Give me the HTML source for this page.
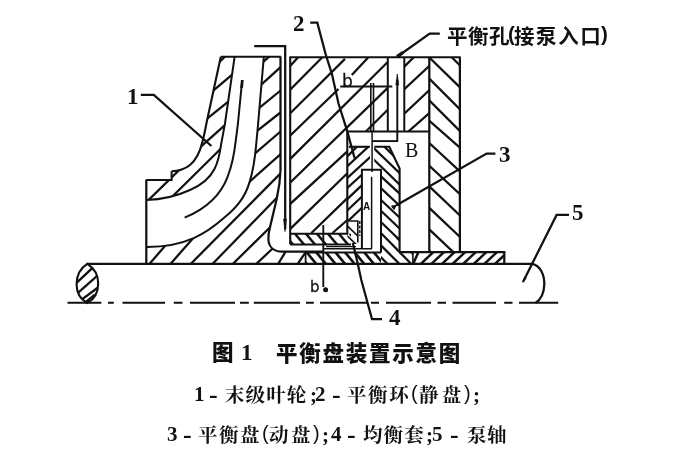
<!DOCTYPE html>
<html lang="zh"><head><meta charset="utf-8"><title>图1 平衡盘装置示意图</title>
<style>
html,body{margin:0;padding:0;background:#fff;}
body{width:680px;height:456px;position:relative;overflow:hidden;}
.ln{position:absolute;left:0;top:0;width:0;height:0;font-size:0;line-height:0;}
.t{display:block;position:absolute;white-space:nowrap;color:#111;line-height:1.2;will-change:transform;filter:blur(0.3px);}
.num{font-family:"Liberation Serif",serif;font-weight:bold;}
.ser{font-family:"Liberation Serif",serif;}
.lab{font-family:"Liberation Sans",sans-serif;-webkit-text-stroke:0.35px #111;}
.hei{font-family:"Liberation Sans","Noto Sans CJK SC",sans-serif;font-weight:bold;}
.cap{font-family:"Liberation Sans","Noto Sans CJK SC",sans-serif;font-weight:900;}
.leg{font-family:"Liberation Serif","Noto Serif CJK SC",serif;font-weight:700;}
.labd{font-family:"DejaVu Sans","Liberation Sans",sans-serif;-webkit-text-stroke:0.3px #111;}
.laba{font-family:"Liberation Sans",sans-serif;font-weight:bold;}
.par{font-family:"Liberation Sans",sans-serif;font-weight:normal;}
</style></head><body>
<svg width="680" height="456" viewBox="0 0 680 456" style="position:absolute;left:0;top:0;filter:blur(0.35px)" stroke="#111" stroke-linecap="butt" fill="none"><defs><clipPath id="c1"><path d="M87.3,263.9 C80,268.4 76.6,276.4 76.6,284.4 C76.6,292.4 80,299 87.3,303 C94.5,299 98.2,292.4 98.2,283.4 C98.2,275.4 94.5,268.4 87.3,263.9 Z"/></clipPath><clipPath id="c2"><path d="M220.8,56.8 L206.5,123 C205,131 203.5,138 202.5,141.5 C200,152 196,160 190,165 C185,169 179,171 171.6,171.2 V180 H146.3 V200 C162,199.5 178,195.5 190,190 C198,186.5 209,180 214.6,168.7 C217,164 219.5,156 221.1,144.3 L224.9,124 L234.6,56.8 Z"/></clipPath><clipPath id="c3"><path d="M263.8,56.8 L258.1,124 L256.2,144.3 C255,158 253,171 249.7,181.6 C245,198 236,208 224.4,217.6 C207,233 186,247.3 146.3,247 V263.3 H305.6 V251.6 H282.2 C274,251.6 269,247 268.4,240 C268.2,237 268.5,233 270,227.3 L276.5,199.7 C278,193 280,185 280.5,170 V56.8 Z"/></clipPath><clipPath id="c4"><path d="M290.2,57.3 H387.8 V131.4 H347.3 V233.8 H290.2 Z"/></clipPath><clipPath id="c5"><path d="M290.2,57.3 H387.8 V131.4 H347.3 V233.8 H290.2 Z"/></clipPath><clipPath id="c6"><path d="M290.2,57.3 H387.8 V131.4 H347.3 V233.8 H290.2 Z"/></clipPath><clipPath id="c7"><path d="M404.3,57.3 H429.6 V131.4 H404.3 Z"/></clipPath><clipPath id="c8"><path d="M429.6,57.3 H459.9 V252.5 H429.6 Z"/></clipPath><clipPath id="c9"><path d="M347.3,146.8 H370 V169.8 H361.9 V221 H347.3 Z"/></clipPath><clipPath id="c10"><path d="M374.2,146.8 H389.3 L399.6,168.5 V252 H412.9 V263.3 H381 V169.8 H374.2 Z"/></clipPath><clipPath id="c11"><path d="M347.3,221 H357.8 V244 H347.3 Z"/></clipPath><clipPath id="c12"><path d="M290.2,233.8 H351 V244.4 H290.2 Z"/></clipPath><clipPath id="c13"><path d="M305.6,252.5 H381 V263.5 H305.6 Z"/></clipPath><clipPath id="c14"><path d="M412.9,252 H504.8 V263.5 H412.9 Z"/></clipPath></defs><line x1="86.5" y1="263.9" x2="532.5" y2="263.9" stroke-width="2.38" />
<g clip-path="url(#c1)" stroke-width="2.38"><line x1="73.7" y1="285.6" x2="95.2" y2="265.4"/><line x1="75.4" y1="295.2" x2="100.1" y2="273.3"/><line x1="79.3" y1="301.4" x2="101.0" y2="285.2"/><line x1="81.8" y1="305.2" x2="94.9" y2="294.6"/></g>
<path d="M87.3,263.9 C80,268.4 76.6,276.4 76.6,284.4 C76.6,292.4 80,299 87.3,303 C94.5,299 98.2,292.4 98.2,283.4 C98.2,275.4 94.5,268.4 87.3,263.9 Z" stroke-width="2.12" fill="none" />
<path d="M532,263.9 C540.5,265.5 544.5,275 544.3,284.5 C544,293 541,299.5 535.5,303" stroke-width="2.25" fill="none" />
<path d="M67.5,302.7 H101.3 M108,302.7 H113.8 M122.5,302.7 H165 M173.8,302.7 H182.5 M190,302.7 H235 M240,302.7 H248.8 M253.8,302.7 H300 M306,302.7 H313.8 M320,302.7 H367 M371,302.7 H379 M386,302.7 H431 M437.5,302.7 H446 M452.5,302.7 H496 M504.2,302.7 H512.5 M519,302.7 H558.2" stroke-width="2.12" fill="none" />
<line x1="146.3" y1="179.5" x2="146.3" y2="263.9" stroke-width="2.25" />
<path d="M146.3,180 H171.6 V171.2" stroke-width="2.00" fill="none" />
<path d="M220.8,56.8 L206.5,123 C205,131 203.5,138 202.5,141.5 C200,152 196,160 190,165 C185,169 179,171 171.6,171.2" stroke-width="2.12" fill="none" />
<path d="M234.6,56.8 L224.9,124 L221.1,144.3 C219.5,156 217,164 214.6,168.7 C209,180 198,186.5 190,190 C178,195.5 162,199.5 146.3,200" stroke-width="2.00" fill="none" />
<path d="M242.2,80 L237.9,124 L235.7,141.1 C234,156 231,168 227.6,176.8 C220,197 203,210 184.6,217.6" stroke-width="2.00" fill="none" />
<path d="M242.3,80 L241.6,88" stroke-width="2.75" fill="none" />
<path d="M263.8,56.8 L258.1,124 L256.2,144.3 C255,158 253,171 249.7,181.6 C245,198 236,208 224.4,217.6 C207,233 186,247.3 146.3,247" stroke-width="2.00" fill="none" />
<line x1="220.8" y1="56.8" x2="281" y2="56.8" stroke-width="2.12" />
<path d="M280.5,56.8 V170 C280,185 278,193 276.5,199.7 L270,227.3 C268.5,233 268.2,237 268.4,240 C269,247 274,251.6 282.2,251.6 H324" stroke-width="2.25" fill="none" />
<path d="M254.2,46.2 H285.2 V229" stroke-width="2.25" fill="none" />
<path d="M285,231.5 L283.6,219 H286.4 Z" stroke-width="0.75"  fill="#111"/>
<g clip-path="url(#c2)" stroke-width="2.25"><line x1="216.8" y1="64.7" x2="228.7" y2="52.8"/><line x1="209.7" y1="93.6" x2="237.1" y2="70.4"/><line x1="203.1" y1="121.9" x2="233.6" y2="97.3"/><line x1="198.0" y1="149.1" x2="228.9" y2="121.7"/><line x1="170.6" y1="198.2" x2="223.8" y2="145.8"/><line x1="145.4" y1="203.1" x2="182.4" y2="166.9"/></g>
<g clip-path="url(#c3)" stroke-width="2.25"><line x1="257.8" y1="66.7" x2="273.9" y2="52.5"/><line x1="256.3" y1="89.2" x2="286.4" y2="61.9"/><line x1="254.4" y1="111.9" x2="286.7" y2="85.5"/><line x1="252.4" y1="134.7" x2="286.8" y2="107.5"/><line x1="250.1" y1="157.6" x2="285.8" y2="127.0"/><line x1="243.7" y1="186.9" x2="285.7" y2="149.6"/><line x1="186.3" y1="268.4" x2="285.3" y2="168.6"/><line x1="208.2" y1="268.4" x2="280.5" y2="194.0"/><line x1="228.4" y1="268.3" x2="275.7" y2="221.7"/><line x1="250.4" y1="269.5" x2="274.2" y2="247.0"/><line x1="273.9" y1="270.8" x2="288.8" y2="246.5"/><line x1="293.1" y1="270.6" x2="309.4" y2="246.7"/><line x1="166.3" y1="268.7" x2="197.2" y2="233.5"/><line x1="145.3" y1="268.7" x2="169.5" y2="240.8"/></g>
<line x1="290.2" y1="57.3" x2="290.2" y2="244.4" stroke-width="2.12" />
<line x1="289.4" y1="57.3" x2="460.7" y2="57.3" stroke-width="2.12" />
<line x1="459.9" y1="57.3" x2="459.9" y2="252.5" stroke-width="2.25" />
<line x1="429.3" y1="57.3" x2="429.3" y2="252.5" stroke-width="2.25" />
<line x1="290.2" y1="233.8" x2="348" y2="233.8" stroke-width="2.00" />
<line x1="347.3" y1="131.4" x2="347.3" y2="234" stroke-width="2.12" />
<line x1="347.3" y1="131.4" x2="429.6" y2="131.4" stroke-width="2.00" />
<line x1="387.8" y1="57.3" x2="387.8" y2="131.4" stroke-width="2.00" />
<line x1="404.3" y1="57.3" x2="404.3" y2="131.4" stroke-width="2.00" />
<g clip-path="url(#c4)" stroke-width="2.25"><line x1="290.2" y1="66.0" x2="298.1" y2="57.3"/><line x1="290.2" y1="89.7" x2="322.3" y2="57.3"/><line x1="290.2" y1="113.3" x2="345.0" y2="58.9"/><line x1="290.3" y1="135.4" x2="338.5" y2="89.0"/><line x1="290.3" y1="158.9" x2="387.5" y2="62.2"/><line x1="290.3" y1="182.5" x2="387.5" y2="88.1"/><line x1="289.5" y1="204.6" x2="347.1" y2="151.6"/><line x1="290.3" y1="228.9" x2="347.1" y2="173.5"/><line x1="311.4" y1="233.0" x2="347.4" y2="198.1"/><line x1="332.5" y1="233.0" x2="347.4" y2="220.0"/></g>
<g clip-path="url(#c5)" stroke-width="2.25"><line x1="351.8" y1="74.9" x2="368.2" y2="57.5"/></g>
<g clip-path="url(#c6)" stroke-width="2.25"><line x1="364.9" y1="132.5" x2="396.0" y2="101.5"/></g>
<g clip-path="url(#c7)" stroke-width="2.25"><line x1="394.0" y1="76.7" x2="423.6" y2="47.6"/><line x1="393.7" y1="99.1" x2="440.9" y2="55.2"/><line x1="393.8" y1="123.6" x2="440.8" y2="79.4"/><line x1="405.7" y1="133.9" x2="441.1" y2="102.6"/></g>
<g clip-path="url(#c8)" stroke-width="2.25"><line x1="442.0" y1="47.5" x2="470.5" y2="76.0"/><line x1="419.2" y1="47.6" x2="470.6" y2="97.8"/><line x1="419.3" y1="68.6" x2="470.5" y2="119.8"/><line x1="419.3" y1="90.5" x2="470.5" y2="141.6"/><line x1="417.6" y1="110.6" x2="461.3" y2="148.9"/><line x1="417.9" y1="132.5" x2="461.0" y2="172.4"/><line x1="417.9" y1="155.2" x2="461.0" y2="195.1"/><line x1="418.0" y1="175.7" x2="460.9" y2="216.3"/><line x1="418.0" y1="197.2" x2="460.9" y2="237.8"/><line x1="418.0" y1="218.7" x2="460.9" y2="259.3"/><line x1="418.0" y1="240.2" x2="460.9" y2="280.8"/></g>
<line x1="340.2" y1="86.4" x2="392.3" y2="86.4" stroke-width="2.00" />
<line x1="370.8" y1="83" x2="370.8" y2="131.4" stroke-width="1.62" />
<line x1="373.5" y1="83" x2="373.5" y2="131.4" stroke-width="1.62" />
<line x1="397.3" y1="80" x2="397.3" y2="141.1" stroke-width="1.94" />
<path d="M397.3,74 L395.9,85 H398.7 Z" stroke-width="0.75"  fill="#111"/>
<line x1="372.4" y1="141.1" x2="398" y2="141.1" stroke-width="1.88" />
<path d="M349,146.8 H369.8" stroke-width="2.12" fill="none" />
<path d="M374.4,146.8 H389.3 L399.6,168.5 V252" stroke-width="2.12" fill="none" />
<path d="M361.9,248 V169.8 H381 V252.4" stroke-width="2.00" fill="none" />
<line x1="372.1" y1="131.4" x2="372.1" y2="172" stroke-width="1.50" />
<line x1="371.6" y1="176.8" x2="371.6" y2="248.6" stroke-width="1.50" />
<g clip-path="url(#c9)" stroke-width="2.25"><line x1="347.6" y1="156.2" x2="362.0" y2="141.5"/><line x1="342.7" y1="170.4" x2="372.9" y2="142.5"/><line x1="342.7" y1="182.2" x2="376.8" y2="151.0"/><line x1="342.7" y1="192.1" x2="367.6" y2="169.5"/><line x1="342.8" y1="203.4" x2="367.5" y2="179.9"/><line x1="342.8" y1="214.7" x2="367.5" y2="191.2"/><line x1="342.8" y1="226.0" x2="367.5" y2="202.5"/></g>
<g clip-path="url(#c10)" stroke-width="2.25"><line x1="383.4" y1="145.6" x2="395.5" y2="157.7"/><line x1="372.0" y1="146.4" x2="402.9" y2="176.3"/><line x1="372.0" y1="157.8" x2="402.9" y2="187.7"/><line x1="378.5" y1="174.1" x2="402.9" y2="196.7"/><line x1="378.5" y1="185.9" x2="402.9" y2="208.7"/><line x1="378.1" y1="197.3" x2="401.9" y2="219.7"/><line x1="378.1" y1="208.0" x2="401.9" y2="230.8"/><line x1="378.1" y1="219.2" x2="401.9" y2="242.3"/><line x1="378.2" y1="230.2" x2="413.6" y2="266.4"/><line x1="378.2" y1="242.6" x2="401.8" y2="266.3"/><line x1="378.2" y1="254.6" x2="401.8" y2="278.3"/><line x1="396.2" y1="236.9" x2="415.7" y2="256.5"/></g>
<path d="M347.3,221 H357.8 V242.6" stroke-width="1.62" fill="none" />
<line x1="359.8" y1="221" x2="359.8" y2="236" stroke-width="1.38" stroke-dasharray="3 1.5"/>
<g clip-path="url(#c11)" stroke-width="1.62"><line x1="345.1" y1="223.9" x2="360.0" y2="238.1"/><line x1="345.1" y1="233.9" x2="360.0" y2="248.1"/></g>
<line x1="290.2" y1="244.4" x2="351" y2="244.4" stroke-width="2.00" />
<g clip-path="url(#c12)" stroke-width="2.50"><line x1="282.7" y1="232.3" x2="295.6" y2="247.6"/><line x1="293.7" y1="232.3" x2="306.6" y2="247.6"/><line x1="304.7" y1="232.3" x2="317.6" y2="247.6"/><line x1="315.7" y1="232.3" x2="328.6" y2="247.6"/><line x1="326.7" y1="232.3" x2="339.6" y2="247.6"/><line x1="337.7" y1="232.3" x2="350.6" y2="247.6"/><line x1="348.7" y1="232.3" x2="361.6" y2="247.6"/></g>
<line x1="324" y1="248.8" x2="372" y2="248.8" stroke-width="1.62" />
<line x1="326" y1="246.6" x2="356" y2="246.6" stroke-width="1.25" />
<line x1="305.6" y1="252.4" x2="381" y2="252.4" stroke-width="2.00" />
<line x1="399" y1="252.2" x2="505.2" y2="252.2" stroke-width="2.25" />
<line x1="504.3" y1="251.4" x2="504.3" y2="263.9" stroke-width="2.25" />
<line x1="305.6" y1="252.5" x2="305.6" y2="263.9" stroke-width="1.75" />
<line x1="412.9" y1="252" x2="412.9" y2="263.9" stroke-width="1.62" />
<g clip-path="url(#c13)" stroke-width="2.62"><line x1="296.0" y1="251.0" x2="308.7" y2="266.4"/><line x1="305.6" y1="251.0" x2="318.3" y2="266.4"/><line x1="315.2" y1="251.0" x2="327.9" y2="266.4"/><line x1="324.8" y1="251.0" x2="337.5" y2="266.4"/><line x1="334.4" y1="251.0" x2="347.1" y2="266.4"/><line x1="344.0" y1="251.0" x2="356.7" y2="266.4"/><line x1="353.6" y1="251.0" x2="366.3" y2="266.4"/><line x1="363.2" y1="251.0" x2="375.9" y2="266.4"/><line x1="372.8" y1="251.0" x2="385.5" y2="266.4"/><line x1="382.4" y1="251.0" x2="395.1" y2="266.4"/><line x1="392.0" y1="251.0" x2="404.7" y2="266.4"/><line x1="401.6" y1="251.0" x2="414.3" y2="266.4"/><line x1="411.2" y1="251.0" x2="423.9" y2="266.4"/></g>
<g clip-path="url(#c14)" stroke-width="2.50"><line x1="413.0" y1="264.3" x2="418.8" y2="251.2"/><line x1="419.7" y1="264.9" x2="434.4" y2="251.2"/><line x1="430.3" y1="264.9" x2="445.0" y2="251.2"/><line x1="440.9" y1="264.9" x2="455.6" y2="251.2"/><line x1="451.5" y1="264.9" x2="466.2" y2="251.2"/><line x1="462.1" y1="264.9" x2="476.8" y2="251.2"/><line x1="472.7" y1="264.9" x2="487.4" y2="251.2"/><line x1="483.3" y1="264.9" x2="498.0" y2="251.2"/><line x1="493.9" y1="264.9" x2="508.6" y2="251.2"/><line x1="504.5" y1="264.9" x2="519.2" y2="251.2"/></g>
<line x1="323.3" y1="225" x2="323.3" y2="287" stroke-width="1.88" />
<circle cx="325.6" cy="289.7" r="2.5" fill="#111" stroke="none"/>
<path d="M140.8,94.9 H153.8 L211.4,146" stroke-width="2.25" fill="none" />
<path d="M310.2,22.7 H317.3 L325.6,54 L332,74.3 L338.5,103.5 L347.3,131.4 L354.6,158.1" stroke-width="2.25" fill="none" />
<path d="M396,205.5 L486.6,153.6 H495.4" stroke-width="2.25" fill="none" />
<path d="M352.8,243 L357.6,262.9 L361.3,280 L372,319 H382" stroke-width="2.25" fill="none" />
<path d="M523,282 L556.6,214.9 H569" stroke-width="2.25" fill="none" />
<path d="M397.5,56.5 L429.7,33.7 H439.8" stroke-width="2.25" fill="none" />
<path d="M397,56.6 L403.2,52.3" stroke-width="3.38" fill="none" />
<path d="M522.8,282.3 L524.6,277.3 L526.2,278.2 Z" stroke-width="0.62"  fill="#111"/>
<path d="M396,205.5 L391.5,206 L394,209.5 Z" stroke-width="1.00"  fill="#111"/></svg>
<div class="ln"><span class="t num" style="left:127.0px;top:82.8px;font-size:23px;">1</span></div>
<div class="ln"><span class="t num" style="left:293.0px;top:9.8px;font-size:23px;">2</span></div>
<div class="ln"><span class="t num" style="left:499.4px;top:140.6px;font-size:23px;">3</span></div>
<div class="ln"><span class="t num" style="left:389.4px;top:304.0px;font-size:23px;">4</span></div>
<div class="ln"><span class="t num" style="left:571.6px;top:198.6px;font-size:23px;">5</span></div>
<div class="ln"><span class="t labd" style="left:341.8px;top:71.4px;font-size:17px;">b</span></div>
<div class="ln"><span class="t labd" style="left:310.2px;top:278.2px;font-size:15px;">b</span></div>
<div class="ln"><span class="t ser" style="left:405.0px;top:138.0px;font-size:20px;">B</span></div>
<div class="ln"><span class="t laba" style="left:363.2px;top:200.6px;font-size:10px;">A</span></div>
<div class="ln"><span class="t hei" style="left:447.4px;top:25.4px;font-size:20.5px;letter-spacing:0.5px;">平衡孔</span><span class="t hei" style="left:508.2px;top:22.4px;font-size:20.5px;">(</span><span class="t hei" style="left:513.8px;top:25.4px;font-size:20.5px;letter-spacing:1.6px;">接泵入口</span><span class="t hei" style="left:601.4px;top:22.4px;font-size:20.5px;">)</span></div>
<div class="ln"><span class="t cap" style="left:212.2px;top:341.2px;font-size:21.5px;">图</span> <span class="t num" style="left:241.4px;top:339.0px;font-size:23px;">1</span>　<span class="t cap" style="left:276.4px;top:342.2px;font-size:21.5px;letter-spacing:1.75px;">平衡盘装置示意图</span></div>
<div class="ln"><span class="t num" style="left:194.4px;top:382.4px;font-size:21px;">1</span> <span class="t num" style="left:209.0px;top:378.6px;font-size:26px;">-</span> <span class="t leg" style="left:224.6px;top:384.4px;font-size:19.5px;letter-spacing:1.1px;">末级叶轮</span><span class="t num" style="left:309.8px;top:383.0px;font-size:21px;">;</span><span class="t num" style="left:315.4px;top:382.4px;font-size:21px;">2</span> <span class="t num" style="left:332.2px;top:378.6px;font-size:26px;">-</span> <span class="t leg" style="left:347.4px;top:384.4px;font-size:19.5px;letter-spacing:1.6px;">平衡环</span><span class="t par" style="left:410.6px;top:381.0px;font-size:20px;">(</span><span class="t leg" style="left:418.8px;top:384.4px;font-size:19.5px;letter-spacing:3.2px;">静盘</span><span class="t par" style="left:464.4px;top:381.0px;font-size:20px;">)</span><span class="t num" style="left:473.0px;top:383.0px;font-size:21px;">;</span></div>
<div class="ln"><span class="t num" style="left:166.8px;top:422.2px;font-size:21px;">3</span> <span class="t num" style="left:182.6px;top:419.0px;font-size:26px;">-</span> <span class="t leg" style="left:198.4px;top:424.2px;font-size:19.5px;letter-spacing:1.5px;">平衡盘</span><span class="t par" style="left:261.8px;top:421.0px;font-size:20px;">(</span><span class="t leg" style="left:268.6px;top:424.2px;font-size:19.5px;letter-spacing:2.4px;">动盘</span><span class="t par" style="left:313.4px;top:421.0px;font-size:20px;">)</span><span class="t num" style="left:321.6px;top:423.0px;font-size:21px;">;</span><span class="t num" style="left:330.8px;top:422.2px;font-size:21px;">4</span> <span class="t num" style="left:347.4px;top:419.0px;font-size:26px;">-</span> <span class="t leg" style="left:363.2px;top:424.2px;font-size:19.5px;letter-spacing:1.1px;">均衡套</span><span class="t num" style="left:425.6px;top:423.0px;font-size:21px;">;</span><span class="t num" style="left:431.8px;top:422.2px;font-size:21px;">5</span> <span class="t num" style="left:449.8px;top:419.0px;font-size:26px;">-</span> <span class="t leg" style="left:466.6px;top:424.2px;font-size:19.5px;letter-spacing:0.6px;">泵轴</span></div>

</body></html>
